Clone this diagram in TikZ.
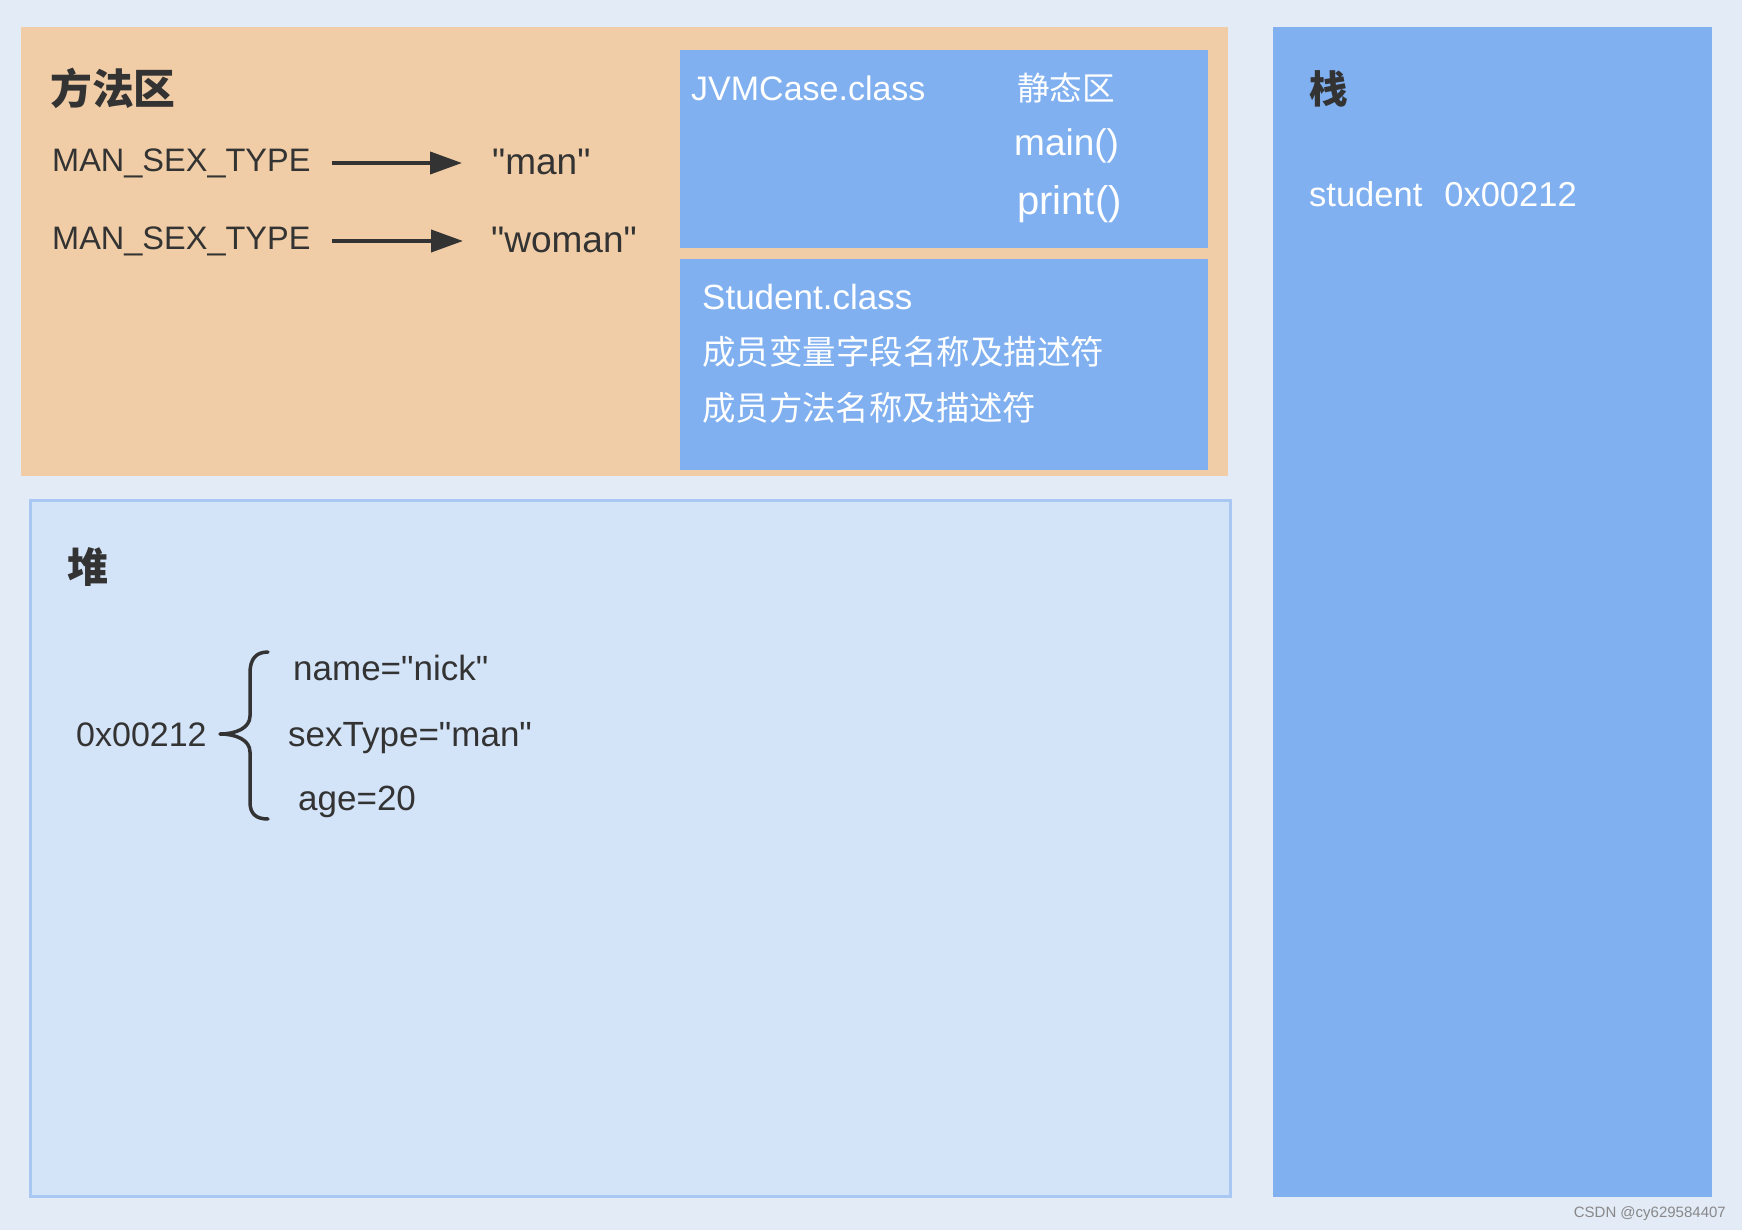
\documentclass[tikz,border=0pt]{standalone}
\usepackage{fontspec}
\setmainfont{Liberation Sans}[Ligatures=TeXOff]
\newfontfamily\cjk{Noto Sans CJK SC}
\usetikzlibrary{arrows.meta}
\newcommand\setpx[1]{\fontsize{#1}{#1}\selectfont}
\newcommand\dq{\symbol{34}}
\definecolor{bgc}{RGB}{227,235,247}
\definecolor{orangec}{RGB}{240,205,166}
\definecolor{bluec}{RGB}{128,176,240}
\definecolor{heapc}{RGB}{211,227,248}
\definecolor{heapb}{RGB}{168,200,243}
\definecolor{darkc}{RGB}{51,51,51}
\definecolor{markc}{RGB}{136,136,136}
\tikzset{
  txt/.style={inner sep=0pt, anchor=west, text=darkc},
  wtxt/.style={inner sep=0pt, anchor=west, text=white},
  head/.style={inner sep=0pt, anchor=west, text=darkc, font=\cjk\bfseries\setpx{40}},
  kv/.style={inner sep=0pt, anchor=west, text=darkc, text height=24pt, text depth=0pt},
  arr/.style={draw=darkc, line width=4pt, -{Triangle[length=32pt,width=22pt]}},
  bracestyle/.style={draw=darkc, line width=3.5pt, line cap=round, line join=round},
}
\begin{document}
\begin{tikzpicture}[x=1pt,y=-1pt]
\useasboundingbox (0,0) rectangle (1742,1230);
\fill[bgc] (0,0) rectangle (1742,1230);
% method area
\fill[orangec] (21,27) rectangle (1228,476);
\fill[bluec] (680,50) rectangle (1208,248);
\fill[bluec] (680,259) rectangle (1208,470);
% heap
\filldraw[fill=heapc, draw=heapb, line width=3pt] (30,500) rectangle (1230,1196);
% stack
\fill[bluec] (1273,27) rectangle (1712,1197);

\node[head, font=\cjk\bfseries\setpx{41.8}] (mhead) at (50,88) {方法区};
\node[kv, font=\setpx{32.5}] (k1) at (52,160) {MAN\_SEX\_TYPE};
\node[kv, font=\setpx{37}] (v1) at (492,163) {\dq man\dq};
\node[kv, font=\setpx{32.5}] (k2) at (52,238) {MAN\_SEX\_TYPE};
\node[kv, font=\setpx{37}] (v2) at (491,241) {\dq woman\dq};
\draw[arr, shorten <=21pt, shorten >=30pt] ([yshift=-3pt]k1.east) -- ([yshift=-3pt]k1.east -| v1.west);
\draw[arr, shorten <=21pt, shorten >=28pt] ([yshift=-3pt]k2.east) -- ([yshift=-3pt]k2.east -| v2.west);

\node[wtxt, font=\setpx{34}] (jvm) at (691,88) {JVMCase.class};
\node[wtxt, font=\cjk\setpx{32.6}] (stat) at (1017,88) {静态区};
\node[wtxt, font=\setpx{37}] (mainm) at (1014,146) {main()};
\node[wtxt, font=\setpx{40}] (printm) at (1017,204) {print()};
\node[wtxt, font=\setpx{35}] (stu) at (702,297) {Student.class};
\node[wtxt, font=\cjk\setpx{33.5}] (fld) at (702,352) {成员变量字段名称及描述符};
\node[wtxt, font=\cjk\setpx{33.4}] (mth) at (702,408) {成员方法名称及描述符};

\node[head, font=\cjk\bfseries\setpx{38.5}] (shead) at (1309,89) {栈};
\node[wtxt, font=\setpx{34.5}] (sref) at (1309,194) {student\hspace{22pt}0x00212};

\node[head, font=\cjk\bfseries\setpx{41}] (hhead) at (67,567) {堆};
\node[txt, font=\setpx{34}] (addr) at (76,735) {0x00212};
\node[txt, font=\setpx{35}] (f1) at (293,668) {name=\dq nick\dq};
\node[txt, font=\setpx{35}] (f2) at (288,738) {sexType=\dq man\dq};
\node[txt, font=\setpx{35}] (f3) at (298,802) {age=20};
\draw[bracestyle] (268,652) .. controls (256,652) and (250,659) .. (250,673) -- (250,716)
  .. controls (250,728) and (236,734) .. (220,734)
  .. controls (236,734) and (250,740) .. (250,752) -- (250,802)
  .. controls (250,814) and (256,819) .. (268,819);

\node[inner sep=0pt, anchor=base east, text=markc, font=\setpx{15}] (mark) at (1726,1217) {CSDN @cy629584407};
\end{tikzpicture}
\end{document}
